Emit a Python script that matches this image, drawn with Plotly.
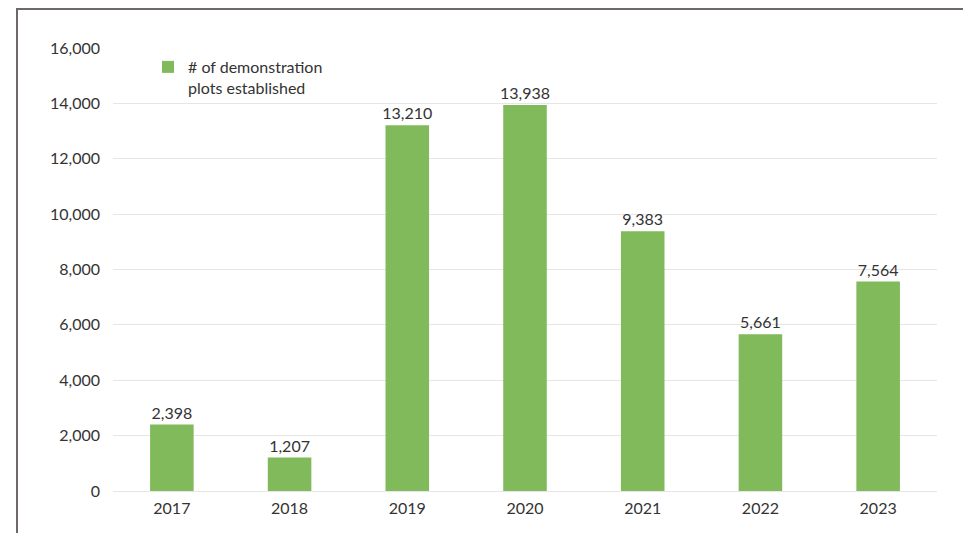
import plotly.graph_objects as go

years = ["2017", "2018", "2019", "2020", "2021", "2022", "2023"]
plots = [2398, 1207, 13210, 13938, 9383, 5661, 7564]
y_ticks = [0, 2000, 4000, 6000, 8000, 10000, 12000, 14000, 16000]
series_name = "# of demonstration<br>plots established"

FONT = "Lato, Noto Sans, sans-serif"
TXT = "#333333"
GREEN = "#80BA5A"

fig = go.Figure()
fig.add_trace(go.Bar(
    x=years, y=plots, name=series_name,
    marker=dict(color=GREEN, line=dict(width=0)),
    text=[f"{v:,}" for v in plots], textposition="outside",
    constraintext="none",
    textfont=dict(family=FONT, size=16, color=TXT),
    cliponaxis=False, showlegend=True,
))

OFF = 8  # page body margin
W, H = 971 - OFF, 533 - OFF
L, R, T, B = 113 - OFF, 34, 48 - OFF, 42
pw, ph = W - L - R, H - T - B

def px_x(p):
    return (p - OFF - L) / pw

def px_y(p):
    return (H - B - (p - OFF)) / ph

fig.update_layout(
    width=W, height=H,
    margin=dict(l=L, r=R, t=T, b=B),
    paper_bgcolor="white", plot_bgcolor="white",
    bargap=0.63,
    font=dict(family=FONT, size=16, color=TXT),
    xaxis=dict(showgrid=False, showline=False, ticks="", ticklabelstandoff=6,
               tickfont=dict(size=16, color=TXT)),
    yaxis=dict(range=[0, 16000], tickvals=y_ticks, tickformat=",d",
               showgrid=True, gridcolor="#E6E6E6", gridwidth=1,
               zeroline=True, zerolinecolor="#E6E6E6", zerolinewidth=1,
               showline=False, ticks="", ticklabelstandoff=12,
               tickfont=dict(size=16, color=TXT)),
    legend=dict(x=px_x(148), y=px_y(50), xanchor="left", yanchor="top",
                bgcolor="rgba(0,0,0,0)", valign="top",
                font=dict(family=FONT, size=16, color=TXT)),
    shapes=[dict(type="rect", xref="paper", yref="paper",
                 x0=px_x(17), x1=px_x(968), y0=px_y(560), y1=px_y(9),
                 line=dict(color="#6E6868", width=2), fillcolor="rgba(0,0,0,0)",
                 layer="below")],
)

fig.write_html("out.html")
